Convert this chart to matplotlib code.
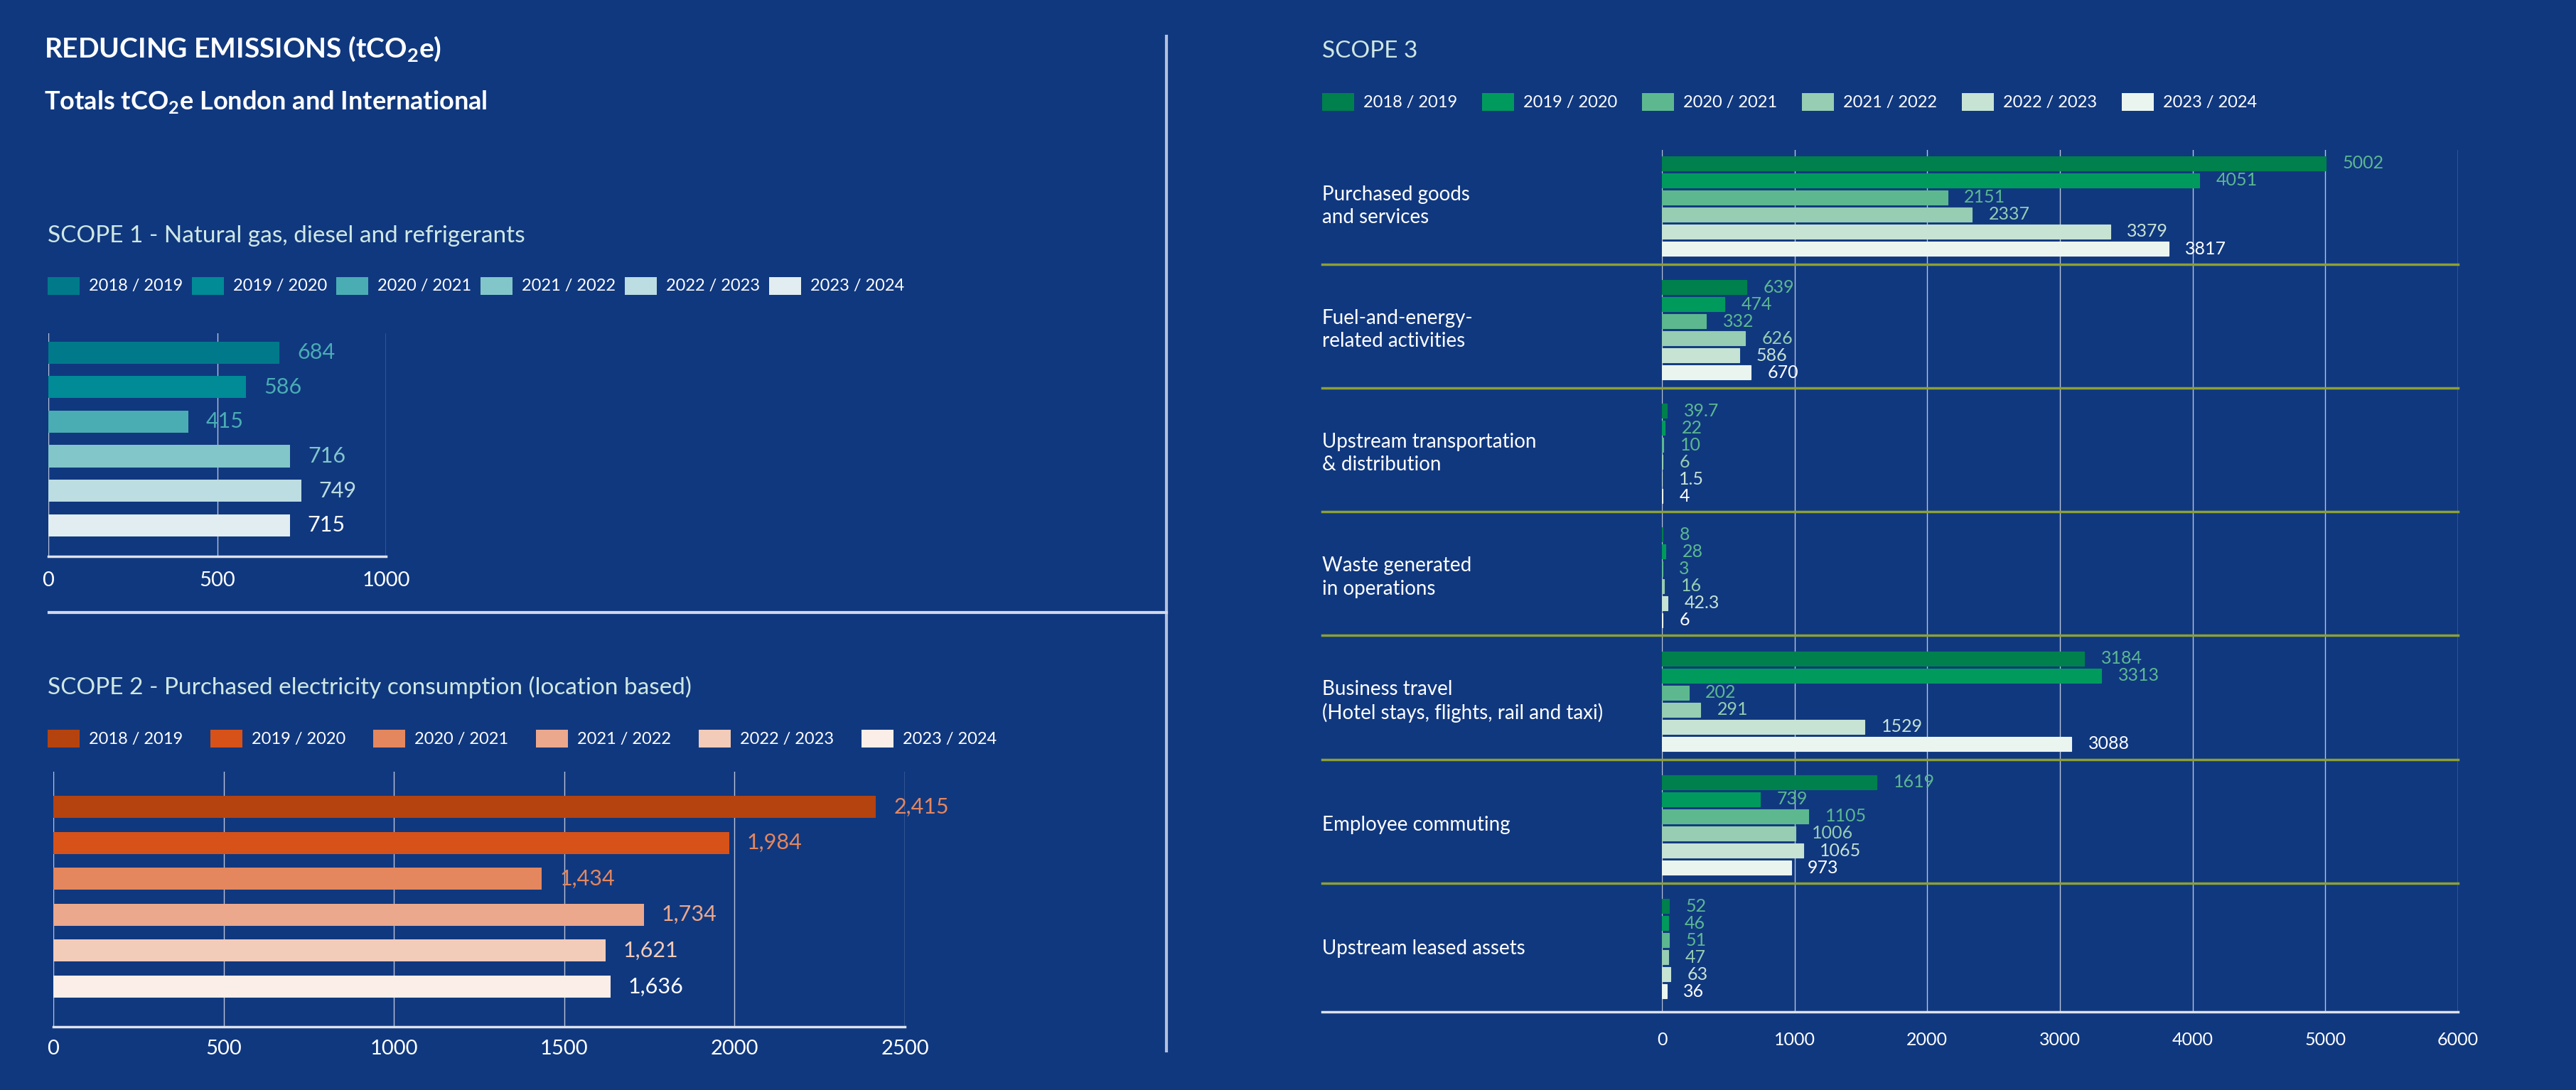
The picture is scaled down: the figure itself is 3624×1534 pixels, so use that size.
import matplotlib
matplotlib.use("Agg")
import matplotlib.pyplot as plt
from matplotlib.lines import Line2D
from matplotlib.patches import Rectangle
import numpy as np

plt.rcParams['font.family'] = ['Lato', 'DejaVu Sans']
plt.rcParams['mathtext.fontset'] = 'custom'
plt.rcParams['mathtext.rm'] = 'Lato'
plt.rcParams['mathtext.bf'] = 'Lato:bold'

# data
years = ['2018 / 2019', '2019 / 2020', '2020 / 2021', '2021 / 2022', '2022 / 2023', '2023 / 2024']

scope1 = [684, 586, 415, 716, 749, 715]
scope2 = [2415, 1984, 1434, 1734, 1621, 1636]

scope3_cats = ['Purchased goods\nand services', 'Fuel-and-energy-\nrelated activities',
               'Upstream transportation\n& distribution', 'Waste generated\nin operations',
               'Business travel\n(Hotel stays, flights, rail and taxi)', 'Employee commuting',
               'Upstream leased assets']
# one list per year, in category order
s3_1819 = [5002, 639, 39.7, 8, 3184, 1619, 52]
s3_1920 = [4051, 474, 22, 28, 3313, 739, 46]
s3_2021 = [2151, 332, 10, 3, 202, 1105, 51]
s3_2122 = [2337, 626, 6, 16, 291, 1006, 47]
s3_2223 = [3379, 586, 1.5, 42.3, 1529, 1065, 63]
s3_2324 = [3817, 670, 4, 6, 3088, 973, 36]
scope3 = [s3_1819, s3_1920, s3_2021, s3_2122, s3_2223, s3_2324]

# styles
BG = '#10387f'
TITLE_C = '#cfe8e3'
GRID_C = '#b9c3da'
c1 = ['#007a8a', '#008b96', '#4aadb4', '#82c6ca', '#bcdde1', '#e1edf0']
c1_lab = ['#4aadb4', '#4aadb4', '#4aadb4', '#82c6ca', '#bcdde1', 'white']
c2 = ['#b5430f', '#d75218', '#e4875e', '#eba88d', '#f2cbb9', '#fbeee9']
c2_lab = ['#e4875e', '#e4875e', '#e4875e', '#eba88d', '#f2cbb9', 'white']
c3 = ['#00804d', '#009a5d', '#5db890', '#97cdb2', '#c7e3d4', '#ebf5f0']
c3_lab = ['#5db890', '#5db890', '#5db890', '#97cdb2', '#c7e3d4', 'white']

W, H = 3624, 1534
fig = plt.figure(figsize=(W / 100, H / 100), dpi=100, facecolor=BG)


def box(x0, y0, x1, y1):
    return [x0 / W, 1 - y1 / H, (x1 - x0) / W, (y1 - y0) / H]


def ftext(x, y, s, **kw):
    fig.text(x / W, 1 - y / H, s, **kw)


def legend(x0, y0, step, colors):
    for i, (lab, col) in enumerate(zip(years, colors)):
        x = x0 + i * step
        fig.add_artist(Rectangle((x / W, 1 - (y0 + 25) / H), 45 / W, 25 / H,
                                 transform=fig.transFigure, facecolor=col, edgecolor='none'))
        ftext(x + 58, y0 + 13, lab, color='white', fontsize=17, va='center', ha='left')


def style_axes(ax, xmax, step, tickfs, pad):
    ax.set_facecolor('none')
    for s in ['top', 'right', 'left']:
        ax.spines[s].set_visible(False)
    ax.spines['bottom'].set_color('#dde2ec')
    ax.spines['bottom'].set_linewidth(2.5)
    ax.set_xlim(0, xmax)
    ax.set_xticks(np.arange(0, xmax + 1, step))
    ax.set_yticks([])
    ax.tick_params(axis='x', length=0, labelcolor='white', labelsize=tickfs, pad=pad)
    ax.xaxis.grid(True, color=GRID_C, lw=1)
    ax.set_axisbelow(True)


# titles
ftext(62, 69, r'REDUCING EMISSIONS (tCO$_{\mathbf{2}}$e)', color='white', fontsize=28,
      fontweight='bold', va='center')
ftext(62, 143, r'Totals tCO$_{\mathbf{2}}$e London and International', color='white', fontsize=26,
      fontweight='bold', va='center')

# dividers
fig.add_artist(Line2D([1641 / W, 1641 / W], [1 - 51 / H, 1 - 1479 / H], color='#b4c0dc', lw=3,
                      transform=fig.transFigure))
fig.add_artist(Line2D([69 / W, 1641 / W], [1 - 862 / H, 1 - 862 / H], color='#d0d8e8', lw=3,
                      transform=fig.transFigure))

# SCOPE 1
ftext(67, 332, 'SCOPE 1 - Natural gas, diesel and refrigerants', color=TITLE_C, fontsize=24, va='center')
legend(67, 390, 203, c1)
ax1 = fig.add_axes(box(68, 469, 543, 783))
pos1 = np.arange(len(scope1))
b1 = ax1.barh(pos1, scope1, height=0.64, color=c1)
style_axes(ax1, 1000, 500, 21, 15)
ax1.set_ylim(5.9, -0.56)
t1 = ax1.bar_label(b1, labels=[f'{v}' for v in scope1], padding=18, fontsize=22)
for t, c in zip(t1, c1_lab):
    t.set_color(c)

# SCOPE 2
ftext(67, 967, 'SCOPE 2 - Purchased electricity consumption (location based)', color=TITLE_C,
      fontsize=24, va='center')
legend(67, 1027, 229, c2)
ax2 = fig.add_axes(box(75, 1086, 1273, 1445))
pos2 = np.arange(len(scope2))
b2 = ax2.barh(pos2, scope2, height=0.61, color=c2)
style_axes(ax2, 2500, 500, 21, 13)
ax2.set_ylim(6.12, -0.98)
t2 = ax2.bar_label(b2, labels=[f'{v:,}' for v in scope2], padding=18, fontsize=22)
for t, c in zip(t2, c2_lab):
    t.set_color(c)

# SCOPE 3
ftext(1860, 72, 'SCOPE 3', color=TITLE_C, fontsize=24, va='center')
legend(1860, 131, 225, c3)
ax3 = fig.add_axes(box(2338, 211, 3458, 1424))
gpos = np.arange(len(scope3_cats))
for j, vals in enumerate(scope3):
    bars = ax3.barh(gpos + (j - 2.5) * 0.138, vals, height=0.115, color=c3[j],
                    edgecolor=c3[j], linewidth=0.8)
    ax3.bar_label(bars, labels=[f'{v:g}' for v in vals], padding=17, fontsize=18, color=c3_lab[j])
style_axes(ax3, 6000, 1000, 18, 20)
ax3.spines['bottom'].set_visible(False)
ax3.set_ylim(6.51, -0.453)
left = (1860 - 2338) / (3458 - 2338)
for i in range(len(scope3_cats) - 1):
    ax3.axhline(i + 0.47, xmin=left, xmax=1, color='#8da033', lw=2.5, clip_on=False)
ax3.axhline(6.51, xmin=left, xmax=1, color='#dde2ec', lw=2.5, clip_on=False)
for i, cat in enumerate(scope3_cats):
    ax3.text(left, i, cat, transform=ax3.get_yaxis_transform(), ha='left', va='center',
             color='white', fontsize=20, linespacing=1.3)

fig.savefig('out.png', dpi=100, facecolor=BG)
